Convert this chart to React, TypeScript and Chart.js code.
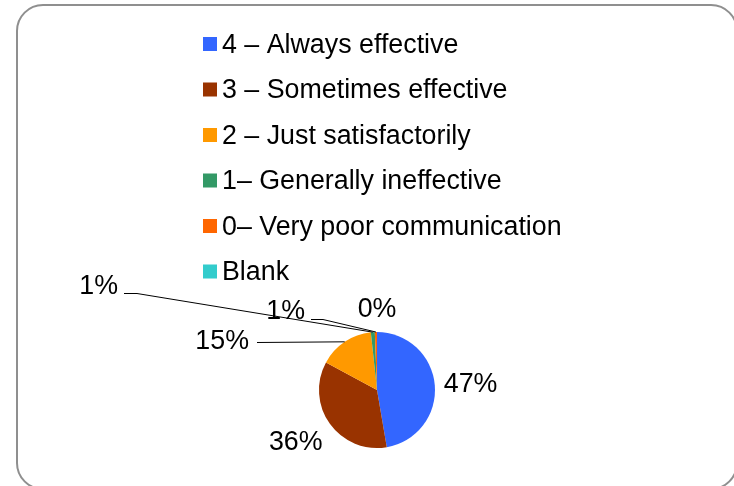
import { useEffect, useRef } from "react";
import { Chart, registerables } from "chart.js";

Chart.register(...registerables);

// ---- data ----
const categories = [
  "4 – Always effective",
  "3 – Sometimes effective",
  "2 – Just satisfactorily",
  "1– Generally ineffective",
  "0– Very poor communication",
  "Blank",
];
const shares = [47.3, 35.6, 15.4, 1.1, 0.6, 0];
const sliceColors = ["#3366FF", "#993300", "#FF9900", "#339966", "#FF6600", "#33CCCC"];

// ---- label layout (null = automatic outside end; otherwise offset from pie centre) ----
type Placement = { dx: number; dy: number; leader: number[][] } | null;
const labelPlacement: Placement[] = [
  null,
  null,
  { dx: -128, dy: -48, leader: [[-120, -48]] },
  { dx: -259, dy: -103, leader: [[-253, -97], [-240, -97]] },
  { dx: -72, dy: -78, leader: [[-66, -71], [-54, -71]] },
  null,
];

const FONT_FAMILY = '"Liberation Sans", Arial, sans-serif';
const FONT_SIZE = 26.8;

const decorPlugin = {
  id: "decor",
  beforeDraw(chart: any) {
    const ctx = chart.ctx as CanvasRenderingContext2D;
    ctx.save();
    ctx.fillStyle = "#ffffff";
    ctx.fillRect(0, 0, chart.width, chart.height);
    ctx.beginPath();
    (ctx as any).roundRect(17, 5, 720, 484, 26);
    ctx.lineWidth = 2;
    ctx.strokeStyle = "#8f8f8f";
    ctx.stroke();
    ctx.restore();
  },
  afterDraw(chart: any) {
    const ctx = chart.ctx as CanvasRenderingContext2D;
    const ds = chart.data.datasets[0];
    const labels: string[] = chart.data.labels;
    ctx.save();
    ctx.font = `${FONT_SIZE}px ${FONT_FAMILY}`;
    ctx.fillStyle = "#000";

    // legend (vertical list)
    const boxX = 203;
    const box = 14;
    const firstY = 44;
    const step = 45.5;
    labels.forEach((lab, i) => {
      const cy = firstY + i * step;
      ctx.fillStyle = ds.backgroundColor[i];
      ctx.fillRect(boxX, cy - box / 2, box, box);
      ctx.fillStyle = "#000";
      ctx.textAlign = "left";
      ctx.textBaseline = "middle";
      ctx.fillText(lab, boxX + box + 5, cy + 1.5);
    });

    // data labels
    const meta = chart.getDatasetMeta(0);
    const values: number[] = ds.data;
    const total = values.reduce((a, b) => a + b, 0);
    meta.data.forEach((arc: any, i: number) => {
      const p = arc.getProps(["x", "y", "startAngle", "endAngle", "outerRadius"], true);
      const mid = (p.startAngle + p.endAngle) / 2;
      const dx = Math.cos(mid);
      const dy = Math.sin(mid);
      const text = Math.round((values[i] / total) * 100) + "%";
      const place = labelPlacement[i];
      ctx.fillStyle = "#000";
      if (!place) {
        const r = p.outerRadius + 9;
        const ax = p.x + dx * r;
        const ay = p.y + dy * r;
        ctx.textAlign = Math.abs(dx) < 0.3 ? "center" : dx > 0 ? "left" : "right";
        ctx.textBaseline = Math.abs(dy) < 0.3 ? "middle" : dy > 0 ? "top" : "bottom";
        ctx.fillText(text, ax, ay);
      } else {
        ctx.textAlign = "right";
        ctx.textBaseline = "middle";
        ctx.fillText(text, p.x + place.dx, p.y + place.dy);
        const ex = p.x + dx * p.outerRadius;
        const ey = p.y + dy * p.outerRadius;
        ctx.beginPath();
        place.leader.forEach((pt, k) => {
          const X = p.x + pt[0];
          const Y = p.y + pt[1] + 0.5;
          if (k === 0) ctx.moveTo(X, Y);
          else ctx.lineTo(X, Y);
        });
        ctx.lineTo(ex, ey);
        ctx.lineWidth = 1;
        ctx.strokeStyle = "#000";
        ctx.stroke();
      }
    });
    ctx.restore();
  },
};

export default function App() {
  const canvasRef = useRef<HTMLCanvasElement>(null);

  useEffect(() => {
    if (!canvasRef.current) return;
    const chart = new Chart(canvasRef.current, {
      type: "pie",
      data: {
        labels: categories,
        datasets: [
          {
            data: shares,
            backgroundColor: sliceColors,
            borderWidth: 0,
          },
        ],
      },
      options: {
        animation: false,
        responsive: true,
        maintainAspectRatio: false,
        layout: { padding: { left: 319, top: 332, right: 299, bottom: 38 } },
        plugins: {
          legend: { display: false },
          tooltip: { enabled: false },
        },
      },
      plugins: [decorPlugin],
    });
    return () => chart.destroy();
  }, []);

  return (
    <div
      style={{
        position: "fixed",
        left: 0,
        top: 0,
        width: 734,
        height: 486,
        overflow: "hidden",
        background: "#fff",
      }}
    >
      <canvas ref={canvasRef} />
    </div>
  );
}
